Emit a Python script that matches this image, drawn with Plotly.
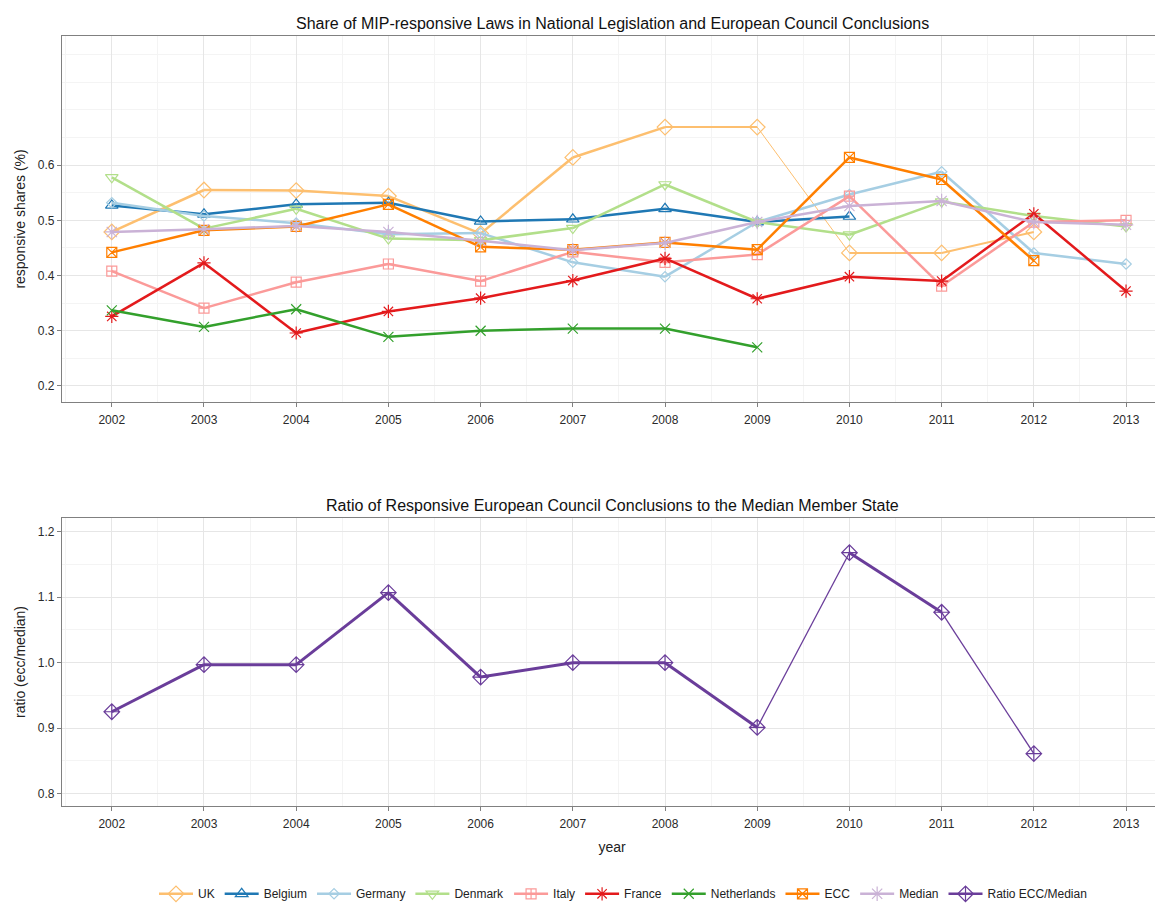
import plotly.graph_objs as go
from plotly.subplots import make_subplots

years = list(range(2002, 2014))

# responsive shares per year (None = no data)
uk = [0.479, 0.555, 0.554, 0.544, 0.476, 0.614, 0.669, 0.669, 0.441, 0.441, 0.479, None]
belgium = [0.527, 0.511, 0.529, 0.532, 0.498, 0.502, 0.521, 0.497, 0.507, None, None, None]
germany = [0.532, 0.508, 0.495, 0.475, 0.477, 0.424, 0.398, 0.497, 0.547, 0.588, 0.441, 0.421]
denmark = [0.578, 0.485, 0.521, 0.467, 0.464, 0.486, 0.565, 0.497, 0.474, 0.534, 0.508, 0.489]
italy = [0.408, 0.341, 0.388, 0.421, 0.390, 0.443, 0.424, 0.438, 0.544, 0.381, 0.497, 0.500]
france = [0.326, 0.423, 0.296, 0.335, 0.359, 0.391, 0.431, 0.358, 0.398, 0.390, 0.512, 0.372]
netherlands = [0.337, 0.307, 0.339, 0.289, 0.300, 0.304, 0.304, 0.270, None, None, None, None]
ecc = [0.442, 0.482, 0.489, 0.529, 0.452, 0.447, 0.460, 0.447, 0.614, 0.574, 0.427, None]
median = [0.479, 0.484, 0.490, 0.479, 0.463, 0.446, 0.459, 0.497, 0.526, 0.535, 0.497, 0.492]

ratio = [0.925, 0.997, 0.997, 1.107, 0.978, 1.000, 1.000, 0.901, 1.168, 1.077, 0.861, None]

# name, values, colour, symbol, marker size
series = [
    ("UK", uk, "#FDBF6F", "diamond-open", 12),
    ("Belgium", belgium, "#1F78B4", "triangle-up-open", 11),
    ("Germany", germany, "#A6CEE3", "diamond-open", 8),
    ("Denmark", denmark, "#B2DF8A", "triangle-down-open", 11),
    ("Italy", italy, "#FB9A99", "square-cross-open", 10),
    ("France", france, "#E31A1C", "asterisk-open", 11),
    ("Netherlands", netherlands, "#33A02C", "x-thin-open", 10),
    ("ECC", ecc, "#FF7F00", "square-x-open", 10),
    ("Median", median, "#CAB2D6", "asterisk-open", 12),
]

# line width per segment (ggplot size varied along some lines)
seg_width = {
    "UK": [2.5] * 6 + [2, 1, 2, 2],
    "Ratio ECC/Median": [3] * 7 + [1.3, 3, 1.3],
}

fig = make_subplots(rows=2, cols=1)


def add_series(name, vals, color, symbol, size, row):
    widths = seg_width.get(name, [2.5] * (len(years) - 1))
    for i in range(len(years) - 1):
        if vals[i] is None or vals[i + 1] is None:
            continue
        fig.add_trace(go.Scatter(
            x=years[i:i + 2], y=vals[i:i + 2], mode="lines",
            line=dict(color=color, width=widths[i]),
            showlegend=False, hoverinfo="skip"), row=row, col=1)
    fig.add_trace(go.Scatter(
        x=years, y=vals, mode="markers", name=name, showlegend=False,
        marker=dict(symbol=symbol, size=size, color=color,
                    line=dict(color=color, width=1.2))), row=row, col=1)
    # legend entry
    fig.add_trace(go.Scatter(
        x=[None], y=[None], mode="lines+markers", name=name,
        line=dict(color=color, width=2.5),
        marker=dict(symbol=symbol, size=size, color=color,
                    line=dict(color=color, width=1.2))), row=row, col=1)


for s in series:
    add_series(*s, row=1)
add_series("Ratio ECC/Median", ratio, "#6A3D9A", "diamond-cross-open", 12, row=2)

grid = "#E6E6E6"
minor_grid = "#F4F4F4"
border = "#808080"
tickfont = dict(family="Liberation Sans, Arial", size=12, color="#2A2A2A")
titlefont = dict(family="Liberation Sans, Arial", size=14, color="#222222")

axis_common = dict(
    showline=True, mirror=True, linecolor=border, linewidth=1.3,
    ticks="outside", ticklen=4, tickcolor=border, automargin=False,
    gridcolor=grid, gridwidth=1.2, zeroline=False, tickfont=tickfont,
)

for r in (1, 2):
    fig.update_xaxes(
        range=[2001.46, 2013.39], tickvals=years, ticktext=[str(y) for y in years],
        minor=dict(dtick=0.5, tick0=2001.5, showgrid=True, gridcolor=minor_grid, ticks=""),
        ticklabelstandoff=2,
        row=r, col=1, **axis_common)

fig.update_yaxes(
    range=[0.171, 0.834], tickvals=[0.2, 0.3, 0.4, 0.5, 0.6],
    ticktext=["0.2", "0.3", "0.4", "0.5", "0.6"],
    minor=dict(dtick=0.05, tick0=0.15, showgrid=True, gridcolor=minor_grid, ticks=""),
    title=dict(text="responsive shares (%)", standoff=8, font=titlefont),
    row=1, col=1, **axis_common)
fig.update_yaxes(
    range=[0.781, 1.221], tickvals=[0.8, 0.9, 1.0, 1.1, 1.2],
    ticktext=["0.8", "0.9", "1.0", "1.1", "1.2"],
    minor=dict(dtick=0.05, tick0=0.75, showgrid=True, gridcolor=minor_grid, ticks=""),
    title=dict(text="ratio (ecc/median)", standoff=8, font=titlefont),
    row=2, col=1, **axis_common)
fig.update_xaxes(title=dict(text="year", standoff=12, font=titlefont), row=2, col=1)

# page body adds 8px offset, margins compensate for it
fig.update_layout(
    width=1163, height=906,
    margin=dict(l=54, r=9, t=28, b=108, autoexpand=False),
    paper_bgcolor="white", plot_bgcolor="white",
    yaxis=dict(domain=[0.5247, 1.0]),
    yaxis2=dict(domain=[0.0, 0.374]),
    xaxis=dict(domain=[0, 1]), xaxis2=dict(domain=[0, 1]),
    font=dict(family="Liberation Sans, Arial", color="#222222"),
    legend=dict(orientation="h", x=0.51, xanchor="center", y=-0.114, yanchor="middle",
                font=dict(family="Liberation Sans, Arial", size=12, color="#222222"),
                itemwidth=34, traceorder="normal"),
    annotations=[
        dict(text="Share of MIP-responsive Laws in National Legislation and European Council Conclusions",
             xref="paper", yref="paper", x=0.5, y=1.0, yanchor="bottom", yshift=2,
             showarrow=False, font=dict(size=16, color="#111111")),
        dict(text="Ratio of Responsive European Council Conclusions to the Median Member State",
             xref="paper", yref="paper", x=0.5, y=0.374, yanchor="bottom", yshift=2,
             showarrow=False, font=dict(size=16, color="#111111")),
    ],
    showlegend=True,
)

fig.write_html("out.html")
